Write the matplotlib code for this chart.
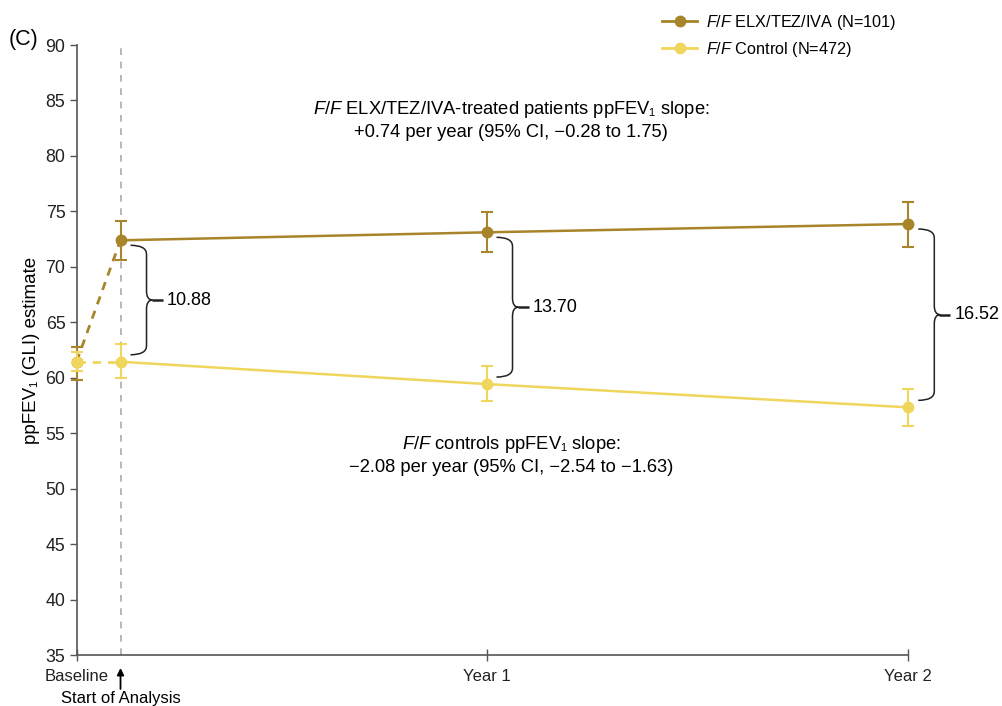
import matplotlib
matplotlib.use("Agg")
import matplotlib.pyplot as plt
import matplotlib.transforms as mtransforms
from matplotlib.path import Path
from matplotlib.patches import PathPatch

plt.rcParams['font.family'] = ['Liberation Sans', 'DejaVu Sans']
plt.rcParams['mathtext.fontset'] = 'custom'
plt.rcParams['mathtext.rm'] = 'Liberation Sans'
plt.rcParams['mathtext.it'] = 'Liberation Sans:italic'

# ---- data ----
time_labels = ["Baseline", "Start", "Year 1", "Year 2"]
time_pos = [0.0, 1.27, 11.83, 24.0]          # months (axis position)
elx_mean = [61.44, 72.39, 73.11, 73.86]
elx_lo = [59.8, 70.61, 71.31, 71.81]
elx_hi = [62.8, 74.16, 74.91, 75.87]
ctl_mean = [61.44, 61.44, 59.43, 57.33]
ctl_lo = [60.6, 60.0, 57.87, 55.67]
ctl_hi = [62.3, 63.04, 61.03, 58.98]
diff_labels = ["10.88", "13.70", "16.52"]
xtick_labels = ["Baseline", "Year 1", "Year 2"]
yticks = [35, 40, 45, 50, 55, 60, 65, 70, 75, 80, 85, 90]

ELX_C = "#A8842A"
CTL_C = "#F0D65C"

W, H = 1003, 706
fig = plt.figure(figsize=(W / 100, H / 100), dpi=100)
ax = fig.add_axes([76.5 / W, 1 - 655 / H, (908.3 - 76.5) / W, 610 / H])
ax.set_xlim(0, 24)
ax.set_ylim(35, 90)

for side in ("top", "right"):
    ax.spines[side].set_visible(False)
for side in ("left", "bottom"):
    ax.spines[side].set_color("#555555")
    ax.spines[side].set_linewidth(1.2)

ax.set_yticks(yticks)
ax.tick_params(axis="y", direction="out", length=5, width=1, colors="#555555",
               labelcolor="#222222", labelsize=12.8, pad=3)
ax.set_xticks([time_pos[0], time_pos[2], time_pos[3]])
ax.set_xticklabels(xtick_labels)
ax.tick_params(axis="x", direction="inout", length=8, width=1, colors="#555555",
               labelcolor="#222222", labelsize=12, pad=6)

ax.set_ylabel("ppFEV₁ (GLI) estimate", fontsize=13.5, labelpad=4)

# start of analysis vertical line
ax.axvline(time_pos[1], color="#aaaaaa", lw=1.2, ls=(0, (4, 4)), zorder=1)


def series(mean, lo, hi, color, z):
    ax.plot(time_pos[:2], mean[:2], color=color, lw=2, ls=(0, (3, 2.5)), zorder=z, clip_on=False)
    ax.plot(time_pos[1:], mean[1:], color=color, lw=1.8, zorder=z, clip_on=False)
    yerr = [[m - l for m, l in zip(mean, lo)], [h - m for m, h in zip(mean, hi)]]
    eb = ax.errorbar(time_pos, mean, yerr=yerr, fmt="o", color=color, ms=7.5,
                     capsize=4, elinewidth=1.5, capthick=1.5, zorder=z + 0.5)
    eb.lines[0].set_clip_on(False)
    for c in eb.lines[1]:
        c.set_clip_on(False)
    for c in eb.lines[2]:
        c.set_clip_on(False)


series(elx_mean, elx_lo, elx_hi, ELX_C, 3)
series(ctl_mean, ctl_lo, ctl_hi, CTL_C, 4)

# legend
h1, = ax.plot([], [], color=ELX_C, lw=2, marker="o", ms=7.5)
h2, = ax.plot([], [], color=CTL_C, lw=2, marker="o", ms=7.5)
fig.legend([h1, h2], [r"$\it{F/F}$ ELX/TEZ/IVA (N=101)", r"$\it{F/F}$ Control (N=472)"],
           loc="upper left", bbox_to_anchor=(656 / W, 1 - 6 / H), frameon=False,
           fontsize=11.7, handlelength=2.1, handletextpad=0.55, labelspacing=0.52,
           borderaxespad=0)

# annotation texts
fig.text(511 / W, 1 - 120 / H,
         r"$\it{F/F}$ ELX/TEZ/IVA-treated patients ppFEV₁ slope:" + "\n" +
         "+0.74 per year (95% CI, −0.28 to 1.75)",
         ha="center", va="center", fontsize=13.2, linespacing=1.25)
fig.text(511 / W, 1 - 455 / H,
         r"$\it{F/F}$ controls ppFEV₁ slope:" + "\n" +
         "−2.08 per year (95% CI, −2.54 to −1.63)",
         ha="center", va="center", fontsize=13.2, linespacing=1.25)

fig.text(9 / W, 1 - 40 / H, "(C)", fontsize=15.5, ha="left", va="center")

# braces
fig.canvas.draw()
ident = mtransforms.IdentityTransform()


def brace(xd, ytop_d, ybot_d, label):
    (xp, ytp) = ax.transData.transform((xd, ytop_d))
    (_, ybp) = ax.transData.transform((xd, ybot_d))
    xv = xp + 26
    yt = ytp - 5
    yb = ybp + 7
    ym = 0.5 * (yt + yb)
    hw, r = 16, 9
    verts = [(xv - hw, yt), (xv, yt), (xv, yt - r),
             (xv, ym + r), (xv, ym), (xv + 6, ym),
             (xv + 6, ym), (xv, ym), (xv, ym - r),
             (xv, yb + r), (xv, yb), (xv - hw, yb)]
    codes = [Path.MOVETO, Path.CURVE3, Path.CURVE3,
             Path.LINETO, Path.CURVE3, Path.CURVE3,
             Path.MOVETO, Path.CURVE3, Path.CURVE3,
             Path.LINETO, Path.CURVE3, Path.CURVE3]
    p = PathPatch(Path(verts, codes), transform=ident, fill=False, lw=1.1,
                  edgecolor="#222222", clip_on=False)
    ax.add_artist(p)
    p2 = PathPatch(Path([(xv + 5, ym), (xv + 16, ym)]), transform=ident, fill=False,
                   lw=1.8, edgecolor="#222222", clip_on=False)
    ax.add_artist(p2)
    ax.text(xv + 20, ym, label, transform=ident, fontsize=13, ha="left", va="center")


for i in range(3):
    brace(time_pos[i + 1], elx_mean[i + 1], ctl_mean[i + 1], diff_labels[i])

# start of analysis arrow
tr_a = mtransforms.offset_copy(ax.transData, fig, x=0, y=-13, units="dots")
tr_b = mtransforms.offset_copy(ax.transData, fig, x=0, y=-34, units="dots")
ax.annotate("", xy=(time_pos[1], 35), xycoords=tr_a, xytext=(time_pos[1], 35), textcoords=tr_b,
            arrowprops=dict(arrowstyle="-|>", color="black", lw=1.3, shrinkA=0, shrinkB=0,
                            mutation_scale=10), annotation_clip=False)
tr_t = mtransforms.offset_copy(ax.transData, fig, x=0, y=-44, units="dots")
ax.text(time_pos[1], 35, "Start of Analysis", transform=tr_t, ha="center", va="center",
        fontsize=12, clip_on=False)

fig.savefig("out.png", dpi=100)
